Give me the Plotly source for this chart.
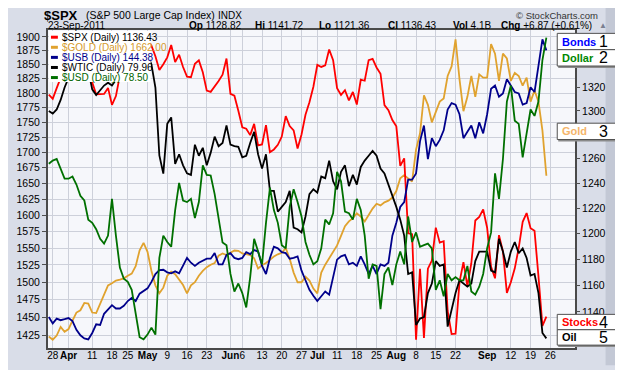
import pandas as pd
import plotly.graph_objects as go

# ---------------- data ----------------
holidays = ["2011-04-22", "2011-05-30", "2011-07-04", "2011-09-05"]
dates = [d for d in pd.bdate_range("2011-03-25", "2011-09-23").strftime("%Y-%m-%d") if d not in holidays]

spx = [1313.80, 1310.19, 1319.44, 1328.26, 1325.83, 1332.41, 1332.87, 1332.63, 1335.54, 1333.51,
       1328.17, 1324.46, 1314.16, 1314.41, 1314.52, 1319.68, 1305.14, 1312.62, 1330.36, 1337.38,
       1335.25, 1347.24, 1355.66, 1360.48, 1363.61, 1361.22, 1356.62, 1347.32, 1335.10, 1340.20,
       1346.29, 1357.16, 1342.08, 1348.65, 1337.77, 1329.47, 1328.98, 1340.68, 1343.60, 1333.27,
       1317.37, 1316.28, 1320.47, 1325.69, 1331.10, 1345.20, 1314.55, 1312.94, 1300.16, 1286.17,
       1284.94, 1279.56, 1289.00, 1270.98, 1271.83, 1287.87, 1265.42, 1267.64, 1271.50, 1278.36,
       1295.52, 1287.14, 1283.50, 1268.45, 1280.10, 1296.67, 1307.41, 1320.64, 1339.67, 1337.88,
       1339.22, 1353.22, 1343.80, 1319.49, 1313.64, 1317.72, 1308.87, 1316.14, 1305.44, 1326.73,
       1325.84, 1343.80, 1345.02, 1337.43, 1331.94, 1304.89, 1300.67, 1292.28, 1286.94, 1254.05,
       1260.34, 1200.07, 1199.38, 1119.46, 1172.53, 1120.76, 1172.64, 1178.81, 1204.49, 1192.76,
       1193.89, 1140.65, 1123.53, 1123.82, 1162.35, 1177.60, 1159.27, 1176.80, 1210.08, 1212.92,
       1218.89, 1204.42, 1173.97, 1165.24, 1198.62, 1185.90, 1154.23, 1162.27, 1172.87, 1188.68,
       1209.11, 1216.01, 1204.09, 1202.09, 1166.76, 1129.56, 1136.43]

gold = [1423.2, 1418.8, 1424.5, 1436.4, 1429.8, 1433.4, 1445.3, 1456.5, 1459.7, 1470.0,
        1469.2, 1456.5, 1455.7, 1469.2, 1483.7, 1495.2, 1498.3, 1502.1, 1503.5, 1505.3,
        1509.1, 1512.3, 1523.0, 1546.7, 1557.8, 1544.4, 1516.1, 1495.2, 1483.7, 1491.9,
        1509.1, 1515.1, 1511.3, 1503.9, 1495.6, 1483.7, 1495.2, 1499.7, 1509.1, 1516.1,
        1521.6, 1525.3, 1527.7, 1538.7, 1542.0, 1539.5, 1543.4, 1546.3, 1545.9, 1542.0,
        1541.0, 1539.5, 1534.9, 1519.7, 1524.4, 1527.7, 1532.4, 1537.3, 1540.6, 1543.0,
        1550.1, 1533.9, 1513.7, 1499.7, 1499.7, 1507.7, 1502.1, 1490.5, 1483.7, 1513.7,
        1525.3, 1534.9, 1544.4, 1553.9, 1568.4, 1582.9, 1590.3, 1595.3, 1602.7, 1597.6,
        1590.3, 1600.1, 1610.1, 1617.6, 1615.0, 1619.9, 1622.5, 1627.4, 1637.6, 1657.8,
        1663.0, 1657.8, 1652.8, 1704.4, 1731.0, 1796.2, 1779.6, 1749.8, 1768.7, 1785.1,
        1790.7, 1829.8, 1846.8, 1895.8, 1824.2, 1768.7, 1793.4, 1829.8, 1793.4, 1832.7,
        1826.9, 1826.9, 1887.1, 1869.7, 1821.3, 1869.7, 1861.0, 1821.3, 1835.4, 1829.8,
        1812.9, 1826.9, 1785.1, 1804.5, 1785.1, 1736.3, 1662.0]

usb = [119.32, 118.73, 119.18, 119.03, 119.12, 119.23, 118.94, 118.13, 117.61, 117.32,
       117.23, 117.83, 118.64, 118.58, 119.63, 120.08, 120.44, 120.13, 120.13, 120.38,
       120.83, 121.12, 120.83, 121.52, 121.73, 122.02, 122.63, 123.37, 123.73, 123.77,
       123.53, 123.44, 123.62, 123.44, 124.16, 124.88, 124.43, 124.13, 124.43, 124.63,
       124.81, 124.81, 125.33, 124.27, 124.27, 125.17, 125.33, 124.88, 124.76, 124.88,
       125.42, 125.24, 125.62, 125.48, 124.13, 123.37, 124.88, 125.93, 125.78, 125.42,
       125.33, 124.81, 124.88, 125.03, 123.68, 122.78, 121.88, 121.32, 120.83, 121.28,
       121.73, 121.43, 123.08, 124.72, 125.03, 125.17, 124.27, 124.43, 124.13, 125.03,
       124.27, 123.37, 124.13, 123.37, 124.27, 124.13, 124.43, 126.97, 128.18, 129.67,
       130.12, 132.23, 132.23, 132.82, 135.83, 137.32, 134.17, 136.13, 135.38, 135.97,
       136.87, 138.83, 139.43, 139.28, 138.38, 136.13, 136.73, 137.32, 136.13, 137.63,
       136.58, 138.38, 140.78, 141.08, 140.02, 140.33, 141.68, 141.08, 140.47, 140.33,
       139.28, 139.43, 140.92, 140.47, 143.17, 145.42, 144.38]

wtic = [105.40, 105.12, 105.58, 106.65, 108.04, 109.12, 109.97, 110.40, 110.83, 111.26,
        109.97, 107.83, 107.19, 107.72, 108.26, 108.58, 108.26, 108.90, 109.97, 110.62,
        110.40, 110.83, 111.05, 111.47, 112.12, 111.69, 110.62, 108.04, 100.43, 98.40,
        103.97, 104.69, 99.50, 100.57, 99.33, 98.43, 98.26, 101.64, 100.40, 101.29,
        99.33, 100.75, 102.54, 101.47, 101.83, 103.79, 101.64, 101.47, 101.40, 100.22,
        100.40, 101.83, 103.08, 100.57, 98.96, 100.57, 96.47, 96.47, 94.14, 94.68,
        95.21, 96.47, 92.36, 92.18, 91.82, 93.60, 96.11, 96.65, 96.28, 98.07,
        97.89, 99.86, 97.54, 96.65, 98.61, 99.33, 97.00, 98.26, 97.18, 99.15,
        99.86, 100.40, 100.94, 100.40, 98.96, 98.43, 97.18, 96.11, 94.68, 93.25,
        91.46, 87.17, 87.35, 81.46, 82.18, 82.35, 85.03, 86.10, 88.61, 88.07,
        88.24, 81.28, 83.25, 85.03, 86.46, 86.10, 85.75, 86.10, 88.61, 89.68,
        89.68, 89.68, 87.54, 87.35, 91.11, 89.68, 87.89, 89.68, 90.75, 89.50,
        90.03, 88.96, 87.00, 87.17, 85.03, 80.57, 79.96]

usd = [76.13, 76.19, 76.22, 76.04, 75.85, 75.85, 75.89, 75.74, 75.53, 75.44,
       75.08, 75.02, 74.90, 74.72, 74.63, 74.78, 75.47, 74.78, 74.18, 73.97,
       73.91, 73.76, 73.28, 72.87, 72.83, 72.92, 73.05, 72.92, 74.36, 74.78,
       74.66, 74.57, 75.26, 75.77, 75.44, 75.41, 75.47, 75.11, 75.41, 76.10,
       75.92, 75.91, 75.56, 75.08, 74.65, 74.60, 74.06, 73.73, 73.88, 73.70,
       73.43, 74.00, 74.72, 74.48, 74.24, 75.02, 75.68, 75.26, 75.02, 74.60,
       74.54, 75.32, 75.65, 75.41, 75.14, 74.66, 74.42, 74.24, 74.30, 74.54,
       75.08, 74.99, 75.20, 75.98, 75.80, 75.23, 75.20, 75.08, 75.47, 75.26,
       74.78, 73.97, 74.24, 74.21, 73.40, 74.06, 74.18, 73.85, 74.24, 74.48,
       74.24, 75.14, 74.66, 74.84, 74.57, 74.60, 74.63, 74.54, 73.76, 73.94,
       73.64, 74.06, 73.94, 74.00, 73.94, 73.94, 74.21, 73.73, 73.67, 73.82,
       74.06, 74.54, 74.84, 75.95, 75.47, 76.22, 77.30, 77.60, 76.94, 76.88,
       76.25, 76.70, 77.15, 77.03, 77.30, 78.08, 78.50]

tick_dates = ["2011-03-28", "2011-04-01", "2011-04-11", "2011-04-18", "2011-04-25", "2011-05-02",
              "2011-05-09", "2011-05-16", "2011-05-23", "2011-06-01", "2011-06-06", "2011-06-13",
              "2011-06-20", "2011-06-27", "2011-07-01", "2011-07-11", "2011-07-18", "2011-07-25",
              "2011-08-01", "2011-08-08", "2011-08-15", "2011-08-22", "2011-09-01", "2011-09-12",
              "2011-09-19", "2011-09-26"]
tick_text = ["28", "<b>Apr</b>", "11", "18", "25", "<b>May</b>", "9", "16", "23", "<b>Jun</b>", "6",
             "13", "20", "27", "<b>Jul</b>", "11", "18", "25", "<b>Aug</b>", "8", "15", "22",
             "<b>Sep</b>", "12", "19", "26"]
gold_ticks = list(range(1425, 1901, 25))
spx_ticks = [1140, 1160, 1180, 1200, 1220, 1240, 1260, 1300, 1320]

legend_items = [("$SPX (Daily) 1136.43", "#ff0000", "#000000"),
                ("$GOLD (Daily) 1662.00", "#e0a22e", "#d49a2a"),
                ("$USB (Daily) 144.38", "#00008b", "#00008b"),
                ("$WTIC (Daily) 79.96", "#000000", "#000000"),
                ("$USD (Daily) 78.50", "#007000", "#006400")]

side_labels = [("Bonds", "1", "#0000ff", 33.5, 50.5),
               ("Dollar", "2", "#008800", 50.5, 67.5),
               ("Gold", "3", "#f5b56a", 127, 144),
               ("Stocks", "4", "#ff0000", 326, 342),
               ("Oil", "5", "#000000", 342, 358)]

# ---------------- figure ----------------
# The page body leaves an 8px margin round the figure, so the figure is sized to
# (623-16) x (378-16) and screen positions below are given in window pixels.
OFF = 8
W, H = 623 - 2 * OFF, 378 - 2 * OFF
L, T = 43 - OFF, 30 - OFF          # plot area: window x 43..577, y 30..361
R, B = W - (577 - OFF), H - (361 - OFF)
PW, PH = W - L - R, H - T - B
FONT = "Liberation Sans, Arial, sans-serif"


def px(x):
    return (x - OFF - L) / PW


def py(y):
    return (H - B - (y - OFF)) / PH


# tick positions along the trading-day category axis (next trading day after the data for Sep 26)
tick_pos = [dates.index(d) if d in dates else len(dates) for d in tick_dates]

LW = 1.8
fig = go.Figure()
fig.add_trace(go.Scatter(x=dates, y=usd, mode="lines", line=dict(color="#007000", width=LW), yaxis="y5"))
fig.add_trace(go.Scatter(x=dates, y=wtic, mode="lines", line=dict(color="#000000", width=LW), yaxis="y4"))
fig.add_trace(go.Scatter(x=dates, y=usb, mode="lines", line=dict(color="#00008b", width=LW), yaxis="y3"))
fig.add_trace(go.Scatter(x=dates, y=gold, mode="lines", line=dict(color="#e0a22e", width=LW), yaxis="y"))
fig.add_trace(go.Scatter(x=dates, y=spx, mode="lines", line=dict(color="#ff0000", width=LW), yaxis="y2"))

shapes = []
annotations = []

# darker strip on the right edge
shapes.append(dict(type="rect", xref="paper", yref="paper", x0=px(608), x1=px(624), y0=py(379), y1=py(0),
                   fillcolor="#c3c8d5", line=dict(width=0), layer="below"))

# legend mask + entries
shapes.append(dict(type="rect", xref="paper", yref="paper", x0=px(44), x1=px(147), y0=py(84), y1=py(31),
                   fillcolor="#ffffff", line=dict(width=0), layer="above"))
for k, (txt, lc, tc) in enumerate(legend_items):
    yy = 37.5 + k * 10.5
    shapes.append(dict(type="line", xref="paper", yref="paper", x0=px(46), x1=px(53), y0=py(yy), y1=py(yy),
                       line=dict(color=lc, width=3), layer="above"))
    annotations.append(dict(text=txt, x=px(55.5), y=py(yy), xref="paper", yref="paper", xanchor="left",
                            yanchor="middle", showarrow=False, font=dict(family=FONT, size=10, color=tc)))

# right side labels
for name, num, col, y0, y1 in side_labels:
    shapes.append(dict(type="rect", xref="paper", yref="paper", x0=px(560), x1=px(624), y0=py(y1 + 2), y1=py(y0 + 2),
                       fillcolor="#8c8c8c", line=dict(width=0), layer="above"))
for name, num, col, y0, y1 in side_labels:
    shapes.append(dict(type="rect", xref="paper", yref="paper", x0=px(559), x1=px(623), y0=py(y1), y1=py(y0),
                       fillcolor="#ffffff", line=dict(color="#505050", width=1), layer="above"))
    yc = (y0 + y1) / 2
    annotations.append(dict(text="<b>%s</b>" % name, x=px(561.5), y=py(yc), xref="paper", yref="paper",
                            xanchor="left", yanchor="middle", showarrow=False,
                            font=dict(family=FONT, size=11, color=col)))
    annotations.append(dict(text=num, x=px(606), y=py(yc), xref="paper", yref="paper",
                            xanchor="center", yanchor="middle", showarrow=False,
                            font=dict(family=FONT, size=16, color="#000000")))

# header
hdr = [("<b>$SPX</b>", 37, 14.5, 13, "#000000"),
       ("(S&P 500 Large Cap Index)", 79, 14.5, 10.5, "#000000"),
       ("INDX", 213, 14.5, 10, "#000000"),
       ("© StockCharts.com", 515, 14.5, 9.5, "#333333"),
       ("23-Sep-2011", 41, 25.5, 10, "#000000"),
       ("<b>Op</b> 1128.82", 184, 25.5, 10, "#000000"),
       ("<b>Hi</b> 1141.72", 251, 25.5, 10, "#000000"),
       ("<b>Lo</b> 1121.36", 316, 25.5, 10, "#000000"),
       ("<b>Cl</b> 1136.43", 385, 25.5, 10, "#000000"),
       ("<b>Vol</b> 4.1B", 451, 25.5, 10, "#000000"),
       ("<b>Chg</b> +6.87 (+0.61%)", 500, 25.5, 10, "#000000"),
       ("▲", 599, 25.5, 8, "#7a8090")]
for txt, x, y, s, c in hdr:
    annotations.append(dict(text=txt, x=px(x), y=py(y), xref="paper", yref="paper", xanchor="left",
                            yanchor="middle", showarrow=False, font=dict(family=FONT, size=s, color=c)))

fig.update_layout(
    width=W, height=H,
    margin=dict(l=L, r=R, t=T, b=B, pad=0),
    paper_bgcolor="#d9dde8",
    plot_bgcolor="#f6f7fb",
    showlegend=False,
    font=dict(family=FONT, size=10, color="#000000"),
    shapes=shapes,
    annotations=annotations,
    xaxis=dict(
        type="category",
        range=[-0.2, 133.25],
        tickmode="array", tickvals=tick_pos, ticktext=tick_text, tickangle=0,
        tickfont=dict(family=FONT, size=10, color="#000000"),
        ticks="", ticklabelstandoff=-3,
        showgrid=True, gridcolor="#cdd0da", gridwidth=1,
        showline=True, linecolor="#4a4a4a", linewidth=2, mirror=True,
        zeroline=False,
    ),
    yaxis=dict(
        type="log", range=[3.14845, 3.28168], side="left",
        tickmode="array", tickvals=gold_ticks, ticktext=[str(v) for v in gold_ticks],
        tickfont=dict(family=FONT, size=10.5, color="#000000"),
        ticks="outside", ticklen=4, tickcolor="#505050",
        showgrid=True, gridcolor="#cdd0da", gridwidth=1,
        showline=True, linecolor="#4a4a4a", linewidth=2, mirror=True,
        zeroline=False,
    ),
    yaxis2=dict(
        type="log", range=[3.04664, 3.13690], side="right", overlaying="y",
        tickmode="array", tickvals=spx_ticks, ticktext=[str(v) for v in spx_ticks],
        tickfont=dict(family=FONT, size=10.5, color="#000000"),
        ticks="outside", ticklen=4, tickcolor="#505050",
        showgrid=False, zeroline=False, showline=False,
    ),
    yaxis3=dict(range=[116.417, 146.297], overlaying="y", visible=False),
    yaxis4=dict(range=[78.885, 114.476], overlaying="y", visible=False),
    yaxis5=dict(range=[72.668, 78.644], overlaying="y", visible=False),
)

fig.write_html("out.html")
